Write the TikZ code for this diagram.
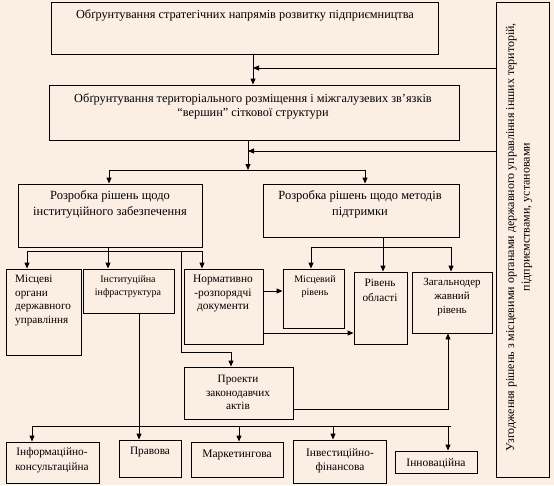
\documentclass[tikz,border=0pt]{standalone}
\usepackage{fontspec}
\setmainfont{Liberation Serif}
\usetikzlibrary{arrows.meta}
\definecolor{bg}{HTML}{FBEEE2}
\newcommand{\fs}[2]{\fontsize{#1}{#2}\selectfont}
\begin{document}
\begin{tikzpicture}[x=1pt,y=-1pt,
  box/.style={draw, line width=0.9pt, inner sep=0pt, fill=bg},
  txt/.style={inner sep=0pt, align=center},
  ln/.style={line width=0.9pt},
  arr/.style={line width=0.9pt, -{Triangle[length=6pt,width=5pt]}},
]
\fill[bg] (0,0) rectangle (554,485);
\useasboundingbox (0,0) rectangle (554,485);
% boxes
\node[box, minimum width=387pt, minimum height=52pt] (b1) at (244.5,28) {};
\node[box, minimum width=410pt, minimum height=55pt] (b2) at (254,112.5) {};
\node[box, minimum width=184pt, minimum height=63pt] (b3) at (110,215.5) {};
\node[box, minimum width=196pt, minimum height=53pt] (b4) at (361,210.5) {};
\node[box, minimum width=53pt, minimum height=475pt] (R) at (522.5,239.5) {};
\node[box, minimum width=75pt, minimum height=86pt] (m1) at (43.5,312) {};
\node[box, minimum width=91pt, minimum height=44pt] (m2) at (128.5,291) {};
\node[box, minimum width=79pt, minimum height=75pt] (m3) at (223.5,306.5) {};
\node[box, minimum width=61pt, minimum height=59pt] (m4) at (313.5,298.5) {};
\node[box, minimum width=53pt, minimum height=72pt] (m5) at (380.5,308) {};
\node[box, minimum width=80pt, minimum height=61pt] (m6) at (452,302.5) {};
\node[box, minimum width=109pt, minimum height=52pt] (p) at (238.5,393) {};
\node[box, minimum width=93pt, minimum height=41pt] (c1) at (52.5,462.5) {};
\node[box, minimum width=62pt, minimum height=37pt] (c2) at (150,458.5) {};
\node[box, minimum width=92pt, minimum height=35pt] (c3) at (237,459.5) {};
\node[box, minimum width=93pt, minimum height=43pt] (c4) at (339.5,461.5) {};
\node[box, minimum width=82pt, minimum height=22pt] (c5) at (436,462) {};
% texts
\node[txt, font=\fs{12.3}{14}] (t1) at (245,15) {Обґрунтування стратегічних напрямів розвитку підприємництва};
\node[txt, font=\fs{12.3}{14}] (t2) at (253,106) {Обґрунтування територіального розміщення і міжгалузевих зв’язків\\“вершин” сіткової структури};
\node[txt, font=\fs{12.5}{16}] (t3) at (110,204) {Розробка рішень щодо\\інституційного забезпечення};
\node[txt, font=\fs{12.5}{16}] (t4) at (360,204) {Розробка рішень щодо методів\\підтримки};
\node[txt, font=\fs{11.2}{13.7}, align=left, anchor=west] (tm1) at (15,300.5) {Місцеві\\органи\\державного\\управління};
\node[txt, font=\fs{10}{13}] (tm2) at (128,286.5) {Інституційна\\інфраструктура};
\node[txt, font=\fs{11.4}{13.5}] (tm3) at (223,293.5) {Нормативно\\-розпорядчі\\документи};
\node[txt, font=\fs{10}{13}] (tm4) at (315,286.5) {Місцевий\\рівень};
\node[txt, font=\fs{11.3}{15}] (tm5) at (380,290.5) {Рівень\\області};
\node[txt, font=\fs{11}{14}] (tm6) at (452,297) {Загальнодер\\жавний\\рівень};
\node[txt, font=\fs{11.2}{13.5}] (tp) at (238,392.5) {Проекти\\законодавчих\\актів};
\node[txt, font=\fs{11.3}{15}] (tc1) at (52,460.5) {Інформаційно-\\консультаційна};
\node[txt, font=\fs{11.3}{14}] (tc2) at (150,452) {Правова};
\node[txt, font=\fs{11.5}{14}] (tc3) at (237,455) {Маркетингова};
\node[txt, font=\fs{11.4}{14}] (tc4) at (340,461) {Інвестиційно-\\фінансова};
\node[txt, font=\fs{11.5}{14}] (tc5) at (436,464) {Інноваційна};
\node[txt, font=\fs{12}{15.5}, rotate=90] (tR) at (519,237) {Узгодження рішень з місцевими органами державного управління інших територій,\\\hspace*{40pt}підприємствами, установами};
% junction coordinates
\coordinate (j1) at (253,68);
\coordinate (j2) at (248,151);
\coordinate (j3) at (248,170);
\coordinate (k3) at (109,170);
\coordinate (k4) at (365,170);
\coordinate (s0) at (108,251);
\coordinate (s1) at (27,251);
\coordinate (s2) at (202,251);
\coordinate (s3) at (181,251);
\coordinate (s4) at (181,352);
\coordinate (s5) at (231,352);
\coordinate (u0) at (383,247);
\coordinate (u1) at (311,247);
\coordinate (u2) at (451,247);
\coordinate (v1) at (270,291);
\coordinate (v2) at (300,333);
\coordinate (w1) at (448,409);
\coordinate (q) at (139,400);
\coordinate (r1) at (32,426);
\coordinate (r2) at (451,426);
\coordinate (r3) at (239,426);
\coordinate (r4) at (333,426);
\coordinate (r5) at (448,426);
% connectors
\draw[arr] (b1.south -| j1) -- (b2.north -| j1);
\draw[arr] (R.west |- j1) -- (j1);
\draw[arr] (b2.south -| j2) -- (j3);
\draw[arr] (R.west |- j2) -- (j2);
\draw[ln] (k3) -- (k4);
\draw[arr] (k3) -- (b3.north -| k3);
\draw[arr] (k4) -- (b4.north -| k4);
\draw[ln] (b3.south -| s0) -- (s0);
\draw[ln] (s1) -- (s2);
\draw[arr] (s1) -- (m1.north -| s1);
\draw[arr] (s0) -- (m2.north -| s0);
\draw[arr] (s2) -- (m3.north -| s2);
\draw[arr] (s3) -- (s4) -- (s5) -- (p.north -| s5);
\draw[ln] (b4.south -| u0) -- (u0);
\draw[ln] (u1) -- (u2);
\draw[arr] (u1) -- (m4.north -| u1);
\draw[arr] (u0) -- (m5.north -| u0);
\draw[arr] (u2) -- (m6.north -| u2);
\draw[arr] (m3.east |- v1) -- (m4.west |- v1);
\draw[arr] (m3.east |- v2) -- (m5.west |- v2);
\draw[arr] (p.east |- w1) -- (w1) -- (m6.south -| w1);
\draw[arr] (m2.south -| q) -- (c2.north -| q);
\draw[ln] (r1) -- (r2);
\draw[arr] (r1) -- (c1.north -| r1);
\draw[arr] (r3) -- (c3.north -| r3);
\draw[arr] (r4) -- (c4.north -| r4);
\draw[arr] (r5) -- (c5.north -| r5);
\end{tikzpicture}
\end{document}
